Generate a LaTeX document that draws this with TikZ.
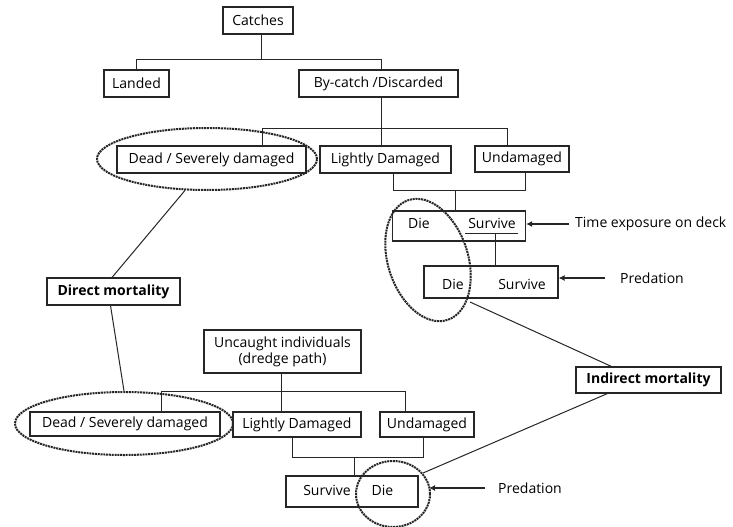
\documentclass[tikz,border=0pt]{standalone}
\usepackage{fontspec}
\setmainfont{Open Sans}
\usetikzlibrary{arrows.meta,shapes.geometric}
\begin{document}
\begin{tikzpicture}[x=1pt,y=-1pt,
  box/.style={draw=black!85,line width=1.1pt,inner sep=0pt,font=\fontsize{14}{16}\selectfont},
  boldbox/.style={box,font=\fontsize{14}{16}\selectfont\bfseries},
  lbl/.style={inner sep=0pt,font=\fontsize{14}{16}\selectfont},
  ln/.style={draw=black!85,line width=1pt},
  arr/.style={ln,line width=1.3pt,-{Latex[length=6pt,width=6pt]}},
  ring/.style={draw=black!85,line width=2pt,dash pattern=on 2pt off 0.8pt,ellipse,inner sep=0pt}]
\fill[white] (0,0) rectangle (733,527);
\useasboundingbox (0,0) rectangle (733,527);

% top tree
\node[box,minimum width=70pt,minimum height=27pt] (catches) at (258,20.5) {Catches};
\node[box,minimum width=65pt,minimum height=27pt] (landed) at (136.5,83.5) {Landed};
\node[box,minimum width=159pt,minimum height=27pt] (bycatch) at (378.5,83.5) {By-catch /Discarded};
\node[box,minimum width=189pt,minimum height=27pt] (dead1) at (211.5,159.5) {Dead / Severely damaged};
\node[box,minimum width=131pt,minimum height=27pt] (light1) at (385.5,159.5) {Lightly Damaged};
\node[box,minimum width=94pt,minimum height=26pt] (undam1) at (522,159) {Undamaged};
\node[box,minimum width=133pt,minimum height=30pt] (dies1) at (459,226) {};
\node[lbl] (die1) at (419,223) {Die};
\node[lbl] (surv1) at (492,223) {Survive};
\node[box,minimum width=134pt,minimum height=32pt] (dies2) at (491,282) {};
\node[lbl] (die2) at (453,284) {Die};
\node[lbl] (surv2) at (522,284) {Survive};
\node[lbl,anchor=west] (time) at (575,224) {Time exposure on deck};
\node[lbl,anchor=west] (pred1) at (620,278) {Predation};

% middle
\node[boldbox,minimum width=133pt,minimum height=27pt] (direct) at (113.5,291.5) {Direct mortality};
\node[boldbox,minimum width=145pt,minimum height=26pt] (indirect) at (648.5,380) {Indirect mortality};

% bottom tree
\node[box,minimum width=157pt,minimum height=43pt,align=center] (uncaught) at (282.5,351.5) {Uncaught individuals\\(dredge path)};
\node[box,minimum width=190pt,minimum height=24pt] (dead2) at (125,424) {Dead / Severely damaged};
\node[box,minimum width=128pt,minimum height=25pt] (light2) at (297,424.5) {Lightly Damaged};
\node[box,minimum width=94pt,minimum height=25pt] (undam2) at (427,424.5) {Undamaged};
\node[box,minimum width=132pt,minimum height=31pt] (sd) at (352,491.5) {};
\node[lbl] (surv3) at (327,490) {Survive};
\node[lbl] (die3) at (382.5,490) {Die};
\node[lbl,anchor=west] (pred2) at (498,488) {Predation};

% ellipses
\node[ring,minimum width=220pt,minimum height=62pt] (ell1) at (207,159) {};
\node[ring,minimum width=218pt,minimum height=63pt] (ell2) at (124,423.5) {};
\node[ring,minimum width=80pt,minimum height=126pt,rotate=18] (ell3) at (428,260) {};
\node[ring,minimum width=74pt,minimum height=66pt] (ell4) at (393,494) {};

% connectors top
\coordinate (j1) at (261,60);
\coordinate (j1L) at (136.5,60);
\coordinate (j1R) at (381,60);
\draw[ln] (catches.south -| j1) -- (j1);
\draw[ln] (landed.north) -- (j1L) -- (j1R) -- (j1R |- bycatch.north);
\coordinate (j2) at (381,128);
\coordinate (j2L) at (262,128);
\coordinate (j2R) at (507,128);
\draw[ln] (bycatch.south -| j2) -- (j2 |- light1.north);
\draw[ln] (j2L |- dead1.north) -- (j2L) -- (j2R) -- (j2R |- undam1.north);
\coordinate (b1L) at (393,190);
\coordinate (b1R) at (525,190);
\coordinate (b1M) at (455,190);
\draw[ln] (b1L |- light1.south) -- (b1L) -- (b1R) -- (b1R |- undam1.south);
\draw[ln] (b1M) -- (b1M |- dies1.north);
\coordinate (u1L) at (465,233);
\coordinate (u1R) at (518,233);
\coordinate (u1M) at (495,233);
\draw[ln] (u1L) -- (u1R);
\draw[ln] (u1M) -- (u1M |- dies2.north);

% connectors bottom
\coordinate (j3) at (281,391);
\coordinate (j3L) at (161,391);
\coordinate (j3R) at (405,391);
\draw[ln] (uncaught.south -| j3) -- (j3 |- light2.north);
\draw[ln] (j3L |- dead2.north) -- (j3L) -- (j3R) -- (j3R |- undam2.north);
\coordinate (b2L) at (292,457);
\coordinate (b2R) at (423,457);
\coordinate (b2M) at (354,457);
\draw[ln] (b2L |- light2.south) -- (b2L) -- (b2R) -- (b2R |- undam2.south);
\draw[ln] (b2M) -- (b2M |- sd.north);

% diagonals
\coordinate (e3b) at (470,302);
\draw[ln] (ell1.235) -- ([xshift=-1.5pt]direct.north);
\draw[ln] ([xshift=-3pt]direct.south) -- (ell2.north);
\draw[ln] (e3b) -- ([xshift=36pt]indirect.north west);
\draw[ln] (ell4.35) -- ([xshift=32pt]indirect.south west);

% arrows
\draw[arr] ([xshift=-6pt]time.west) -- (time.west -| dies1.east);
\draw[arr] ([xshift=-15pt]pred1.west) -- (pred1.west -| dies2.east);
\draw[arr] ([xshift=-13pt]pred2.west) -- ([xshift=-2pt]pred2.west -| ell4.east);
\end{tikzpicture}
\end{document}
